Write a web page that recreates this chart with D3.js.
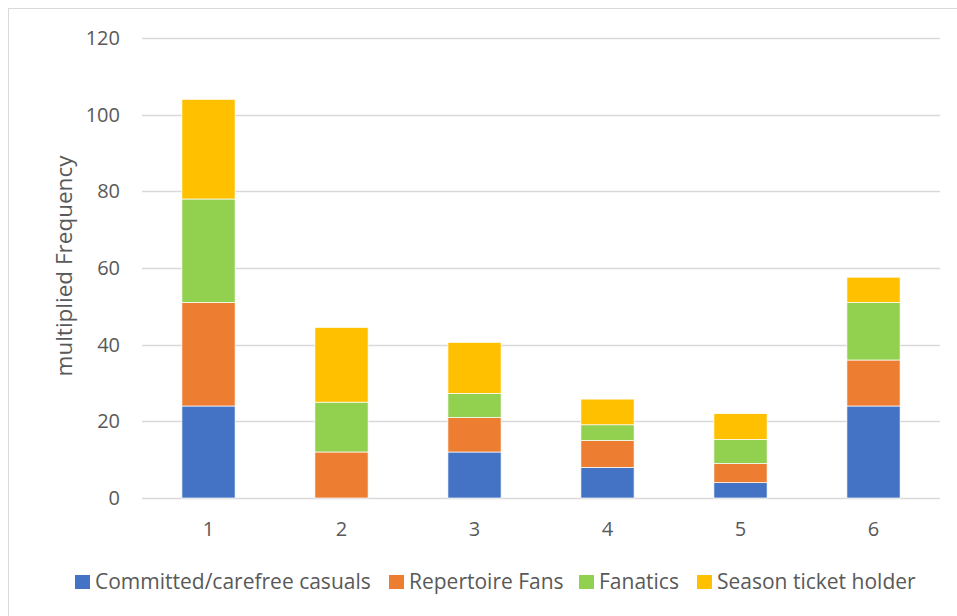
<!DOCTYPE html>
<html>
<head>
<meta charset="utf-8">
<script src="https://cdn.jsdelivr.net/npm/d3@7"></script>
<style>
  body { margin: 0; background: #fff; }
  text { font-family: "Open Sans", Lato, sans-serif; fill: #595959; }
</style>
</head>
<body>
<script>
// values
var categories = ["1", "2", "3", "4", "5", "6"];
var seriesNames = ["Committed/carefree casuals", "Repertoire Fans", "Fanatics", "Season ticket holder"];
var casuals   = [24, 0, 12, 8, 4, 24];
var repFans   = [27, 12, 9, 7, 5, 12];
var fanatics  = [27, 13, 6.3, 4.1, 6.3, 15];
var seasonTkt = [26, 19.5, 13.3, 6.7, 6.7, 6.6];
var yTicks = [0, 20, 40, 60, 80, 100, 120];
var colors = ["#4472C4", "#ED7D31", "#92D050", "#FFC000"];

function drawChart(){
  var width = 957, height = 616;
  var svg = d3.select("body").append("svg")
      .attr("width", width)
      .attr("height", height);

  // chart frame
  svg.append("rect")
    .attr("x", 8.5).attr("y", 8.5)
    .attr("width", width + 10).attr("height", height + 10)
    .style("fill", "none")
    .style("stroke", "#D9D9D9");

  var plotLeft = 142, plotRight = 940, plotTop = 38, plotBottom = 498;

  var x = d3.scaleBand()
    .domain(categories)
    .range([plotLeft, plotRight])
    .paddingInner(0.6)
    .paddingOuter(0.3);

  var y = d3.scaleLinear()
    .domain([0, 120])
    .range([plotBottom, plotTop]);

  // grid
  svg.append("g")
    .selectAll("line")
    .data(yTicks)
    .enter().append("line")
      .attr("x1", plotLeft).attr("x2", plotRight)
      .attr("y1", function(d){ return Math.round(y(d)) + 0.5; })
      .attr("y2", function(d){ return Math.round(y(d)) + 0.5; })
      .style("stroke", "#D9D9D9")
      .style("stroke-width", 1.3);

  // y axis labels
  var yAxis = d3.axisLeft(y).tickValues(yTicks).tickSize(0).tickPadding(22);
  var gy = svg.append("g")
    .attr("transform", "translate(" + plotLeft + ",0)")
    .call(yAxis);
  gy.select(".domain").remove();
  gy.selectAll("text").style("font-size", "20px").attr("fill", "#595959");

  // x axis labels
  var xAxis = d3.axisBottom(x).tickSize(0).tickPadding(24);
  var gx = svg.append("g")
    .attr("transform", "translate(0," + plotBottom + ")")
    .call(xAxis);
  gx.select(".domain").remove();
  gx.selectAll("text").style("font-size", "20px").attr("fill", "#595959");

  // stacked bars
  var rows = categories.map(function(c, i){
    return { cat: c, s0: casuals[i], s1: repFans[i], s2: fanatics[i], s3: seasonTkt[i] };
  });
  var stack = d3.stack().keys(["s0", "s1", "s2", "s3"]);
  var layers = stack(rows);

  svg.selectAll(".layer")
    .data(layers)
  .enter().append("g")
    .attr("class", "layer")
    .style("fill", function(d, i){ return colors[i]; })
  .selectAll("rect")
    .data(function(d){ return d; })
  .enter().append("rect")
    .attr("x", function(d){ return x(d.data.cat); })
    .attr("width", x.bandwidth())
    .attr("y", function(d){ return y(d[1]); })
    .attr("height", function(d){ return Math.max(0, y(d[0]) - y(d[1])); })
    .style("stroke", "#fff")
    .style("stroke-width", 0.7);

  // y axis title
  svg.append("text")
    .attr("transform", "translate(72,266)rotate(-90)")
    .attr("text-anchor", "middle")
    .style("font-size", "22.5px")
    .text("multiplied Frequency");

  // legend
  var legendX = [75, 389, 579, 697];
  var legend = svg.append("g").attr("transform", "translate(0,582)");
  var items = legend.selectAll(".legend-item")
    .data(seriesNames)
  .enter().append("g")
    .attr("class", "legend-item")
    .attr("transform", function(d, i){ return "translate(" + legendX[i] + ",0)"; });
  items.append("rect")
    .attr("x", 0).attr("y", -7)
    .attr("width", 15).attr("height", 14)
    .style("fill", function(d, i){ return colors[i]; });
  items.append("text")
    .attr("x", 20).attr("dy", "0.35em")
    .style("font-size", "21px")
    .text(String);
}

drawChart();
</script>
</body>
</html>
